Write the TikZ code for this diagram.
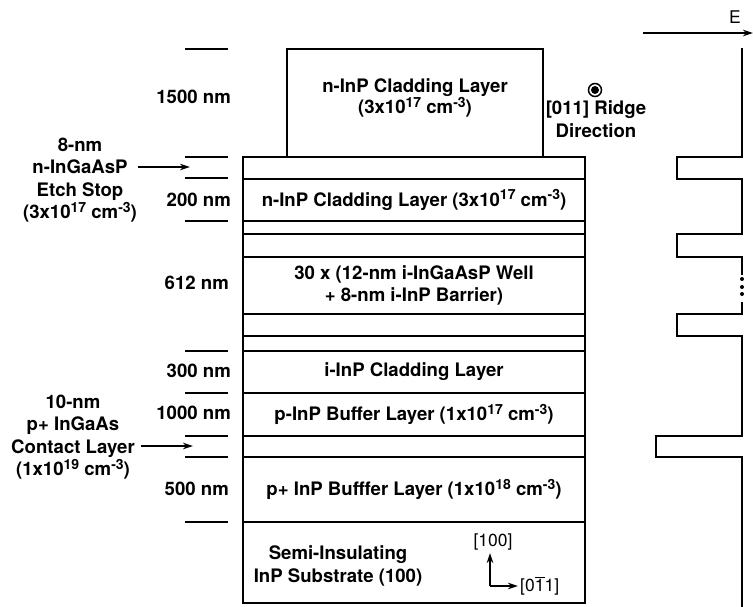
\documentclass[tikz,border=0pt]{standalone}
\usepackage{fontspec}
\setmainfont{TeX Gyre Heros}
\usetikzlibrary{arrows.meta, positioning}
\newcommand{\supnum}[1]{\raisebox{0.62ex}{\fontsize{14}{14}\selectfont #1}}

\begin{document}
\begin{tikzpicture}[x=1pt, y=-1pt,
    layer/.style={rectangle, draw, line width=1.9pt, minimum width=342pt, inner sep=0pt,
                  align=center, font=\fontsize{18.6}{22}\selectfont\bfseries},
    txt/.style={inner sep=0pt, align=center, font=\fontsize{18.6}{22.5}\selectfont\bfseries},
    thin/.style={inner sep=0pt, font=\fontsize{17.5}{20}\selectfont},
    tick/.style={line width=1.9pt},
    arrow/.style={-{Stealth[length=10pt, width=6.5pt]}, line width=1.8pt}
  ]
    \useasboundingbox (0,0) rectangle (753,607);
    % ridge and layer stack
    \node[layer, minimum width=256pt, minimum height=108pt] (ridge) at (415,103) {};
    \node[txt, font=\fontsize{18.6}{21}\selectfont\bfseries] (ridgelbl) at (415,98)
      {n-InP Cladding Layer\\(3x10\supnum{17} cm\supnum{-3})};
    \node[layer, minimum height=22pt] (etch)    at (414,168)   {};
    \node[layer, minimum height=42pt] (nclad)   at (414,200)
      {n-InP Cladding Layer (3x10\supnum{17} cm\supnum{-3})};
    \node[layer, minimum height=13pt] (schtop)  at (414,227.5) {};
    \node[layer, minimum height=23pt] (qwtop)   at (414,245.5) {};
    \node[layer, minimum height=57pt] (mqw)     at (414,285.5)
      {30 x (12-nm i-InGaAsP Well\\+ 8-nm i-InP Barrier)};
    \node[layer, minimum height=22pt] (qwbot)   at (414,325)   {};
    \node[layer, minimum height=15pt] (schbot)  at (414,343.5) {};
    \node[layer, minimum height=42pt] (iclad)   at (414,372)   {i-InP Cladding Layer};
    \node[layer, minimum height=43pt] (pbuf)    at (414,414.5)
      {p-InP Buffer Layer (1x10\supnum{17} cm\supnum{-3})};
    \node[layer, minimum height=21pt] (contact) at (414,446.5) {};
    \node[layer, minimum height=65pt] (ppbuf)   at (414,489.5)
      {p+ InP Bufffer Layer (1x10\supnum{18} cm\supnum{-3})};
    \node[layer, minimum height=81pt] (subst)   at (414,562.5) {};
    \node[txt] (substlbl) at (338,566) {Semi-Insulating\\InP Substrate (100)};

    % crystal axes
    \coordinate (ax0) at (490,586);
    \coordinate (axup) at (490,553);
    \coordinate (axrt) at (518,586);
    \draw[arrow, line width=1.6pt] (ax0) -- (axup);
    \draw[arrow, line width=1.6pt] (ax0) -- (axrt);
    \node[thin] (ax100) at (493,542) {[100]};
    \node[thin, anchor=west] (ax011) at (520,586) {[0$\overline{\mbox{1}}$1]};

    % thickness ticks
    \foreach \ty in {49,157,178,221,351,393,436,457,522}
      \draw[tick] (185,\ty) -- (228,\ty);
    \node[txt, anchor=east] (t1500) at (231,97)  {1500 nm};
    \node[txt, anchor=east] (t200)  at (231,200) {200 nm};
    \node[txt, anchor=east] (t612)  at (229,283) {612 nm};
    \node[txt, anchor=east] (t300)  at (231,371) {300 nm};
    \node[txt, anchor=east] (t1000) at (231,413) {1000 nm};
    \node[txt, anchor=east] (t500)  at (229,489) {500 nm};

    % side annotations
    \node[txt] (etchlbl) at (80,180)
      {8-nm\\n-InGaAsP\\Etch Stop\\(3x10\supnum{17} cm\supnum{-3})};
    \coordinate (etchfrom) at (138,167);
    \coordinate (etchto) at (190,167);
    \draw[arrow] (etchfrom) -- (etchto);
    \node[txt] (contlbl) at (73,437)
      {10-nm\\p+ InGaAs\\Contact Layer\\(1x10\supnum{19} cm\supnum{-3})};
    \coordinate (contfrom) at (141,446);
    \coordinate (contto) at (193,446);
    \draw[arrow] (contfrom) -- (contto);

    % ridge direction
    \draw[line width=1.5pt] (595,90) circle (6.5pt);
    \fill (595,90) circle (4pt);
    \node[txt] (ridgedir) at (596,119) {[011] Ridge\\Direction};

    % field profile
    \coordinate (eleft) at (643,33);
    \coordinate (eright) at (753,33);
    \draw[arrow, line width=1.6pt] (eleft) -- (eright);
    \node[thin] (elbl) at (735,17) {E};
    \draw[line width=1.9pt] (742,48) -- (742,157) -- (677,157) -- (677,179) -- (742,179)
      -- (742,234) -- (677,234) -- (677,257) -- (742,257) -- (742,275);
    \foreach \dy in {279,287,294}
      \fill (742,\dy) circle (2pt);
    \draw[line width=1.9pt] (742,302) -- (742,314) -- (677,314) -- (677,336) -- (742,336)
      -- (742,436) -- (656,436) -- (656,457) -- (742,457) -- (742,607);
  \end{tikzpicture}
\end{document}
